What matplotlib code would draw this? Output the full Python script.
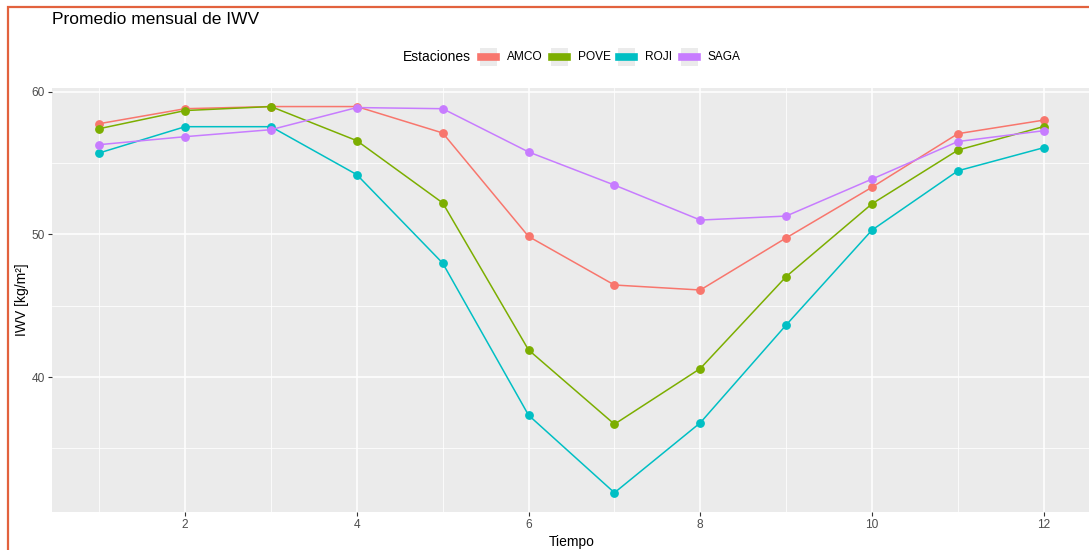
import numpy as np
import matplotlib.pyplot as plt
from matplotlib.patches import Rectangle
from matplotlib.lines import Line2D

plt.rcParams['font.family'] = ['Liberation Sans', 'DejaVu Sans']

# monthly means of IWV per station
meses = np.arange(1, 13)
amco = [57.75, 58.8, 58.95, 58.95, 57.1, 49.85, 46.45, 46.1, 49.75, 53.3, 57.05, 58.0]
pove = [57.4, 58.67, 58.95, 56.56, 52.2, 41.9, 36.7, 40.6, 47.04, 52.14, 55.9, 57.55]
roji = [55.7, 57.54, 57.54, 54.18, 47.98, 37.33, 31.9, 36.8, 43.65, 50.3, 54.45, 56.07]
saga = [56.28, 56.84, 57.33, 58.88, 58.8, 55.77, 53.45, 51.0, 51.28, 53.87, 56.5, 57.26]

estaciones = ['AMCO', 'POVE', 'ROJI', 'SAGA']
series = [amco, pove, roji, saga]
colores = ['#F8766D', '#7CAE00', '#00BFC4', '#C77CFF']

W, H = 1089, 550
fig = plt.figure(figsize=(W / 100, H / 100), dpi=100)
ax = fig.add_axes([52 / W, 1 - 512 / H, 1039 / W, 424 / H])

ax.set_facecolor('#EBEBEB')
for s in ax.spines.values():
    s.set_visible(False)

for vals, col in zip(series, colores):
    ax.plot(meses, vals, color=col, lw=1.1, marker='o', ms=5.3, zorder=3)

ax.set_xlim(0.45, 12.55)
ax.set_ylim(30.55, 60.25)
ax.set_xticks([2, 4, 6, 8, 10, 12])
ax.set_yticks([40, 50, 60])
ax.set_xticks([1, 3, 5, 7, 9, 11], minor=True)
ax.set_yticks([35, 45, 55], minor=True)
ax.grid(which='major', color='white', lw=1.1)
ax.grid(which='minor', color='white', lw=0.55)
ax.set_axisbelow(True)
ax.tick_params(which='major', length=3, width=0.8, color='#333333',
               labelcolor='#4D4D4D', labelsize=8.6, pad=2)
ax.tick_params(which='minor', length=0)

ax.set_xlabel('Tiempo', fontsize=10, color='black', labelpad=3)
fig.text(22 / W, 1 - 300 / H, 'IWV [kg/m²]', rotation=90, fontsize=10,
         ha='center', va='center')
fig.text(52 / W, 1 - 20 / H, 'Promedio mensual de IWV', fontsize=12.5,
         ha='left', va='center')

# legend drawn ggplot style, keys on grey squares
fig.text(403 / W, 1 - 57 / H, 'Estaciones', fontsize=10, ha='left', va='center')
key_x = [480, 551, 618, 681]
for kx, lab, col in zip(key_x, estaciones, colores):
    fig.patches.append(Rectangle((kx / W, 1 - 66 / H), 17 / W, 18 / H,
                                 transform=fig.transFigure, facecolor='#EBEBEB',
                                 edgecolor='none'))
    fig.lines.append(Line2D([(kx + 1) / W, (kx + 16) / W], [1 - 57 / H] * 2,
                            transform=fig.transFigure, color=col, lw=5.5))
    fig.text((kx + 27) / W, 1 - 57 / H, lab, fontsize=8.6, ha='left', va='center')

# orange frame around the screenshot
fig.patches.append(Rectangle((8 / W, -0.05), 1.1, 1 - 7 / H + 0.05,
                             transform=fig.transFigure, fill=False,
                             edgecolor='#E2623E', lw=1.6))

fig.savefig('out.png', dpi=100)
